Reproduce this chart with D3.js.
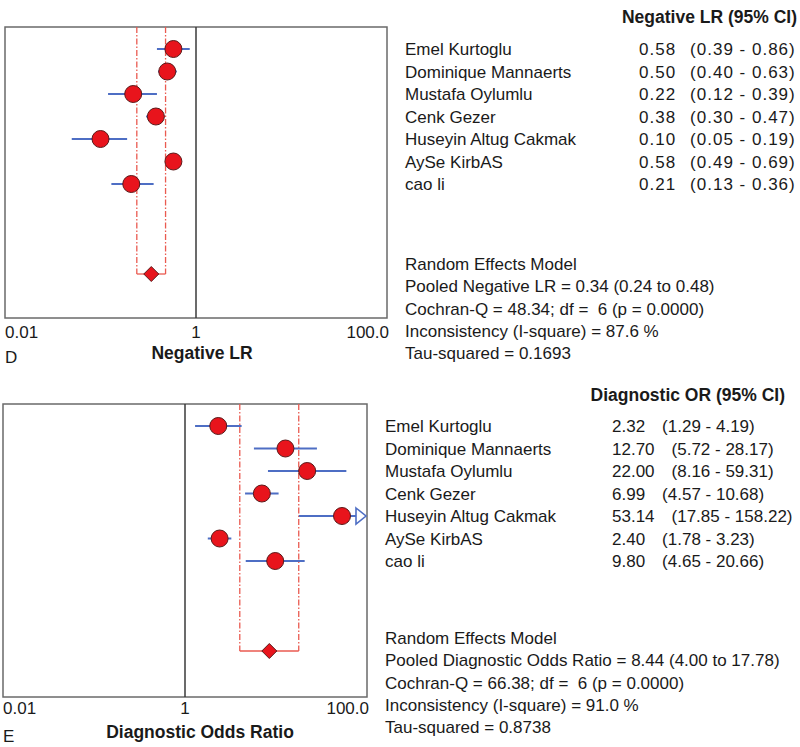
<!DOCTYPE html>
<html>
<head>
<meta charset="utf-8">
<script src="https://cdn.jsdelivr.net/npm/d3@7"></script>
<style>
  html, body { margin: 0; padding: 0; background: #fff; }
  svg { display: block; }
  text { font-family: "Liberation Sans", Arial, sans-serif; fill: #1a1a1a; }
</style>
</head>
<body>
<svg id="chart" width="800" height="747"></svg>
<script>
// ---------- DATA ----------
const studies = ["Emel Kurtoglu", "Dominique Mannaerts", "Mustafa Oylumlu", "Cenk Gezer",
                 "Huseyin Altug Cakmak", "AySe KirbAS", "cao li"];

const nlrEst = [0.58, 0.50, 0.22, 0.38, 0.10, 0.58, 0.21];
const nlrLo  = [0.39, 0.40, 0.12, 0.30, 0.05, 0.49, 0.13];
const nlrHi  = [0.86, 0.63, 0.39, 0.47, 0.19, 0.69, 0.36];
const nlrPooled = [0.34, 0.24, 0.48];
const nlrStats = [
  "Random Effects Model",
  "Pooled Negative LR = 0.34 (0.24 to 0.48)",
  "Cochran-Q = 48.34; df =  6 (p = 0.0000)",
  "Inconsistency (I-square) = 87.6 %",
  "Tau-squared = 0.1693"
];

const dorEst = [2.32, 12.70, 22.00, 6.99, 53.14, 2.40, 9.80];
const dorLo  = [1.29, 5.72, 8.16, 4.57, 17.85, 1.78, 4.65];
const dorHi  = [4.19, 28.17, 59.31, 10.68, 158.22, 3.23, 20.66];
const dorPooled = [8.44, 4.00, 17.78];
const dorStats = [
  "Random Effects Model",
  "Pooled Diagnostic Odds Ratio = 8.44 (4.00 to 17.78)",
  "Cochran-Q = 66.38; df =  6 (p = 0.0000)",
  "Inconsistency (I-square) = 91.0 %",
  "Tau-squared = 0.8738"
];

const tickValues = [0.01, 1, 100];
const tickLabels = ["0.01", "1", "100.0"];

// ---------- DRAW ----------
const svg = d3.select("#chart");
const RED = "#e8141c", BLUE = "#4e6ec4";

function panel(o) {
  const g = svg.append("g");
  const x = d3.scaleLog().domain([0.01, 100]).range([o.x0, o.x1]);
  const y = d3.scaleLinear().domain([0, 1]).range([o.row0, o.row0 + 22.5]);

  // box
  g.append("rect").attr("x", o.x0).attr("y", o.y0)
    .attr("width", o.x1 - o.x0).attr("height", o.y1 - o.y0)
    .attr("fill", "none").attr("stroke", "#6a6a6a").attr("stroke-width", 1.5);

  // reference line at 1
  g.append("line").attr("x1", x(1)).attr("x2", x(1)).attr("y1", o.y0).attr("y2", o.y1)
    .attr("stroke", "#3a3a3a").attr("stroke-width", 1.5);

  // pooled CI bracket
  const yd = y(10);
  [o.pooled[1], o.pooled[2]].forEach(v => {
    g.append("line").attr("x1", x(v)).attr("x2", x(v)).attr("y1", o.y0).attr("y2", yd)
      .attr("stroke", "#ea5a50").attr("stroke-width", 1.3).attr("stroke-dasharray", "6,2,1.5,2");
  });
  g.append("line").attr("x1", x(o.pooled[1])).attr("x2", x(o.pooled[2])).attr("y1", yd).attr("y2", yd)
    .attr("stroke", "#ea5a50").attr("stroke-width", 1.3);

  // CI lines
  const maxV = 100;
  o.est.forEach((v, i) => {
    const hiClip = o.hi[i] > maxV;
    const xr = hiClip ? x(maxV) - 10 : x(o.hi[i]);
    g.append("line").attr("x1", x(o.lo[i])).attr("x2", xr).attr("y1", y(i)).attr("y2", y(i))
      .attr("stroke", BLUE).attr("stroke-width", 2);
    if (hiClip) {
      const xe = x(maxV) - 1;
      g.append("path")
        .attr("d", `M${xe - 10},${y(i) - 8} L${xe},${y(i)} L${xe - 10},${y(i) + 8} Z`)
        .attr("fill", "#fff").attr("stroke", BLUE).attr("stroke-width", 1.6);
    }
  });

  // points
  g.selectAll("circle.pt").data(o.est).join("circle")
    .attr("cx", d => x(d)).attr("cy", (d, i) => y(i)).attr("r", 8.5)
    .attr("fill", RED).attr("stroke", "#5a1a1a").attr("stroke-width", 1);

  // pooled diamond
  const px = x(o.pooled[0]), s = 7.5;
  g.append("path")
    .attr("d", `M${px},${yd - s} L${px + s},${yd} L${px},${yd + s} L${px - s},${yd} Z`)
    .attr("fill", RED).attr("stroke", "#5a1a1a").attr("stroke-width", 1);

  // axis tick labels
  tickValues.forEach((t, i) => {
    g.append("text").attr("x", i === 2 ? x(t) + 2 : x(t))
      .attr("y", o.tickY)
      .attr("text-anchor", i === 0 ? "start" : (i === 1 ? "middle" : "end"))
      .attr("font-size", 17).text(tickLabels[i]);
  });
  // axis title
  g.append("text").attr("x", o.titleX).attr("y", o.titleY).attr("text-anchor", "middle")
    .attr("font-size", 17.5).attr("font-weight", "bold").text(o.title);
  g.append("text").attr("x", o.x0).attr("y", o.letterY).attr("font-size", 17).text(o.letter);

  // header
  g.append("text").attr("x", o.headX).attr("y", o.headY).attr("text-anchor", "end")
    .attr("font-size", 17.5).attr("font-weight", "bold").text(o.header);

  // study rows
  studies.forEach((name, i) => {
    g.append("text").attr("x", o.nameX).attr("y", y(i) + 6).attr("font-size", 17).text(name);
    const t = g.append("text").attr("x", o.valX).attr("y", y(i) + 6).attr("font-size", 17)
      .attr("letter-spacing", o.numSpacing);
    t.append("tspan").text(o.est[i].toFixed(2));
    t.append("tspan").attr("dx", o.ciGap)
      .text(`(${o.lo[i].toFixed(2)} - ${o.hi[i].toFixed(2)})`);
  });

  // stats
  o.stats.forEach((s, i) => {
    g.append("text").attr("x", o.nameX).attr("y", o.statY + i * 22.3).attr("font-size", 17)
      .attr("xml:space", "preserve").style("white-space", "pre").text(s);
  });
}

panel({
  est: nlrEst, lo: nlrLo, hi: nlrHi, pooled: nlrPooled, stats: nlrStats,
  x0: 5, x1: 387, y0: 27, y1: 318, row0: 49,
  tickY: 338, title: "Negative LR", titleX: 202, titleY: 359, letter: "D", letterY: 363,
  header: "Negative LR (95% CI)", headX: 797, headY: 23,
  nameX: 405, valX: 639, statY: 270, numSpacing: 1, ciGap: 14
});

panel({
  est: dorEst, lo: dorLo, hi: dorHi, pooled: dorPooled, stats: dorStats,
  x0: 3, x1: 367, y0: 404, y1: 697, row0: 426,
  tickY: 714, title: "Diagnostic Odds Ratio", titleX: 200, titleY: 738, letter: "E", letterY: 742,
  header: "Diagnostic OR (95% CI)", headX: 785, headY: 401,
  nameX: 385, valX: 612, statY: 644, numSpacing: 0, ciGap: 17
});
</script>
</body>
</html>
